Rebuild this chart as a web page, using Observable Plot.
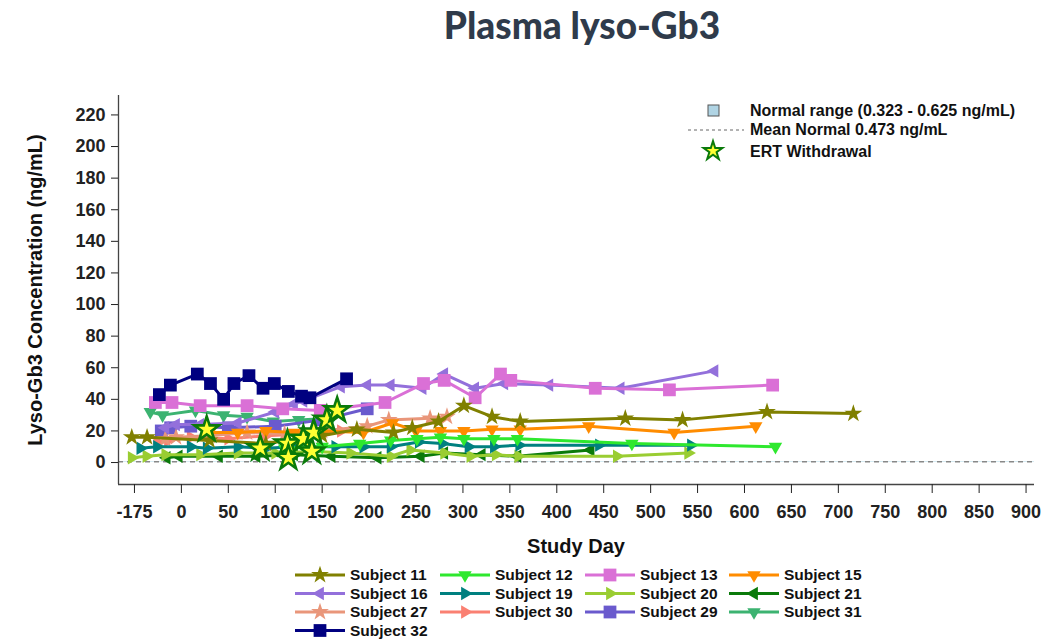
<!DOCTYPE html>
<html><head><meta charset="utf-8">
<script src="https://cdn.jsdelivr.net/npm/d3@7"></script>
<script src="https://cdn.jsdelivr.net/npm/@observablehq/plot@0.6"></script>
<style>
body{margin:0;background:#fff;font-family:"Liberation Sans",Arial,sans-serif;}
#wrap{position:relative;width:1054px;height:640px;overflow:hidden;background:#fff}
#chart{position:absolute;left:0;top:0}
#title{position:absolute;left:0;width:1164px;top:2px;text-align:center;font-family:Lato,"Open Sans",sans-serif;font-weight:900;font-size:37px;color:#2f3b4b}
#ylab{position:absolute;left:35px;top:290px;transform:translate(-50%,-50%) rotate(-90deg);white-space:nowrap;font-weight:bold;font-size:20px;color:#111}
#xlab{position:absolute;left:0;width:1152px;top:535px;text-align:center;font-weight:bold;font-size:20px;color:#111}
#leg{position:absolute;left:0;top:0}
</style></head>
<body><div id="wrap">
<div id="chart"></div>
<div id="title">Plasma lyso-Gb3</div>
<div id="ylab">Lyso-Gb3 Concentration (ng/mL)</div>
<div id="xlab">Study Day</div>
<svg id="leg" width="1054" height="640"></svg>
</div>
<script>
// ---- data ----
const s11Day = [-185, -128, 30, 90, 150, 187, 226, 246, 274, 301, 331, 361, 473, 534, 624, 716];
const s11Val = [16, 16, 14, 12, 17, 21, 19, 22, 26, 36, 29, 26, 28, 27, 32, 31];
const s12Day = [110, 150, 190, 223, 251, 276, 301, 333, 358, 480, 633];
const s12Val = [9, 10, 12, 14, 15, 16, 15, 15, 15, 12, 10];
const s13Day = [-97, -35, 20, 70, 108, 148, 217, 258, 280, 313, 340, 351, 441, 520, 630];
const s13Val = [38, 38, 36, 36, 34, 33, 38, 50, 52, 41, 56, 52, 47, 46, 49];
const s15Day = [30, 60, 90, 120, 150, 194, 225, 250, 276, 301, 331, 361, 434, 525, 612];
const s15Val = [19, 19, 20, 19, 20, 19, 25, 20, 20, 20, 21, 21, 23, 19, 23];
const s16Day = [-60, -20, 20, 60, 100, 120, 130, 170, 198, 223, 257, 280, 313, 344, 392, 468, 568];
const s16Val = [22, 24, 24, 25, 32, 37, 39, 48, 49, 49, 47, 56, 47, 50, 49, 47, 58];
const s19Day = [-153, -91, 10, 27, 60, 90, 120, 164, 194, 223, 253, 278, 306, 333, 360, 445, 543];
const s19Val = [9, 10, 10, 9, 10, 9, 10, 10, 10, 10, 13, 12, 10, 10, 11, 11, 11];
const s20Day = [-185, -130, -60, 20, 60, 100, 140, 180, 223, 244, 280, 308, 335, 359, 464, 540];
const s20Val = [3, 4, 5, 5, 6, 6, 7, 6, 4, 8, 6, 4, 5, 4, 4, 6];
const s21Day = [-55, -10, 40, 80, 120, 160, 209, 255, 280, 320, 358, 436];
const s21Val = [3, 4, 4, 4, 5, 4, 3, 4, 6, 5, 4, 8];
const s27Day = [-60, -20, 30, 70, 110, 150, 198, 221, 265, 283];
const s27Val = [15, 16, 17, 19, 18, 20, 23, 27, 28, 29];
const s30Day = [-90, -50, 10, 50, 90, 130, 170];
const s30Val = [13, 14, 16, 15, 17, 18, 20];
const s29Day = [-75, -40, 10, 50, 100, 150, 198];
const s29Val = [20, 22, 23, 22, 23, 27, 34];
const s31Day = [-116, -70, 15, 45, 70, 98, 125, 160];
const s31Val = [32, 30, 33, 30, 29, 26, 27, 28];
const s32Day = [-82, -41, 17, 31, 45, 56, 72, 87, 99, 114, 128, 137, 176];
const s32Val = [43, 49, 56, 50, 40, 50, 55, 47, 50, 45, 42, 41, 53];
const ertDay = [27, 84, 113, 114, 130, 139, 141, 155, 166];
const ertVal = [21, 9, 12, 3, 15, 7, 19, 27, 33];
const normalLow = 0.323, normalHigh = 0.625, normalMean = 0.473;
const yTicks = [0, 20, 40, 60, 80, 100, 120, 140, 160, 180, 200, 220];
const xTickLabels = [-175, 0, 50, 100, 150, 200, 250, 300, 350, 400, 450, 500, 550, 600, 650, 700, 750, 800, 850, 900];

// ---- symbols ----
function tri(kind){
  return {draw(ctx, size){
    const r = Math.sqrt(size/Math.PI)*1.25, a = r*0.866, h = r*0.5;
    if(kind==="down"){ctx.moveTo(0,r);ctx.lineTo(a,-h);ctx.lineTo(-a,-h);}
    else if(kind==="left"){ctx.moveTo(-r,0);ctx.lineTo(h,-a);ctx.lineTo(h,a);}
    else {ctx.moveTo(r,0);ctx.lineTo(-h,-a);ctx.lineTo(-h,a);}
    ctx.closePath();
  }};
}
const SYM = {star: d3.symbolStar, square: d3.symbolSquare, down: tri("down"), left: tri("left"), right: tri("right")};
const RAD = {star: 5.6, square: 7.2, down: 6.2, left: 6.2, right: 6.2};

const subjects = [
  {name:"Subject 11", days:s11Day, vals:s11Val, color:"#808000", sym:"star"},
  {name:"Subject 12", days:s12Day, vals:s12Val, color:"#2ee82e", sym:"down"},
  {name:"Subject 13", days:s13Day, vals:s13Val, color:"#da70d6", sym:"square"},
  {name:"Subject 15", days:s15Day, vals:s15Val, color:"#ff8c00", sym:"down"},
  {name:"Subject 16", days:s16Day, vals:s16Val, color:"#9370db", sym:"left"},
  {name:"Subject 19", days:s19Day, vals:s19Val, color:"#008080", sym:"right"},
  {name:"Subject 20", days:s20Day, vals:s20Val, color:"#9acd32", sym:"right"},
  {name:"Subject 21", days:s21Day, vals:s21Val, color:"#0a7a0a", sym:"left"},
  {name:"Subject 27", days:s27Day, vals:s27Val, color:"#e9967a", sym:"star"},
  {name:"Subject 30", days:s30Day, vals:s30Val, color:"#fa8072", sym:"right"},
  {name:"Subject 29", days:s29Day, vals:s29Val, color:"#6a5acd", sym:"square"},
  {name:"Subject 31", days:s31Day, vals:s31Val, color:"#3cb371", sym:"down"},
  {name:"Subject 32", days:s32Day, vals:s32Val, color:"#000080", sym:"square"}
];
const drawOrder = ["Subject 31","Subject 30","Subject 29","Subject 27","Subject 21","Subject 20","Subject 19","Subject 16","Subject 15","Subject 13","Subject 12","Subject 11","Subject 32"];

// broken axis: pre-treatment days compressed into first interval
const tx = d => d < 0 ? d*50/175 : d;
const xDomain = [-67, 909];
const yDomain = [-13.9, 232.3];

const marks = [
  Plot.rect([{x1:xDomain[0], x2:xDomain[1], y1:normalLow, y2:normalHigh}], {x1:"x1", x2:"x2", y1:"y1", y2:"y2", fill:"#add8e6"}),
  Plot.ruleY([normalMean], {stroke:"#888", strokeWidth:1.5, strokeDasharray:"5,4"})
];
for(const nm of drawOrder){
  const s = subjects.find(d => d.name === nm);
  const rows = s.days.map((d,i) => ({day:d, val:s.vals[i]}));
  marks.push(Plot.line(rows, {x: d => tx(d.day), y:"val", stroke:s.color, strokeWidth:3}));
  marks.push(Plot.dot(rows, {x: d => tx(d.day), y:"val", symbol:SYM[s.sym], r:RAD[s.sym], fill:s.color, stroke:"none"}));
}
const ert = ertDay.map((d,i) => ({day:d, val:ertVal[i]}));
marks.push(Plot.dot(ert, {x: d => tx(d.day), y:"val", symbol:d3.symbolStar, r:7.8, fill:"#ffff33", stroke:"#0a7a0a", strokeWidth:2.6}));
marks.push(Plot.ruleX([xDomain[0]], {stroke:"#444", strokeWidth:1.3}));
marks.push(Plot.ruleY([yDomain[0]], {stroke:"#444", strokeWidth:1.3}));
marks.push(Plot.axisY({ticks:yTicks, tickSize:7, tickPadding:6, label:null}));
marks.push(Plot.axisX({ticks:xTickLabels.map(tx), tickSize:9, tickPadding:12, label:null,
  tickFormat: d => d < 0 ? String(Math.round(d*175/50)) : String(d)}));

const chart = Plot.plot({
  width:1054, height:640,
  marginLeft:118, marginRight:20, marginTop:95, marginBottom:156,
  x:{domain:xDomain}, y:{domain:yDomain},
  style:{fontSize:"18px", fontWeight:"bold", fontFamily:"'Liberation Sans', Arial, sans-serif", color:"#222", background:"transparent"},
  marks
});
document.getElementById("chart").appendChild(chart);

// ---- legends ----
const leg = d3.select("#leg");
const txt = (x,y,t,fs) => leg.append("text").attr("x",x).attr("y",y).attr("dy","0.35em")
  .attr("font-family","'Liberation Sans', Arial, sans-serif").attr("font-weight","bold").attr("font-size",fs||"16px").attr("fill","#111").text(t);
// top-right
leg.append("rect").attr("x",708).attr("y",105).attr("width",11).attr("height",11).attr("fill","#b0d4e4").attr("stroke","#555").attr("stroke-width",1);
txt(750,110,"Normal range (0.323 - 0.625 ng/mL)");
leg.append("line").attr("x1",688).attr("x2",744).attr("y1",130).attr("y2",130).attr("stroke","#666").attr("stroke-width",1).attr("stroke-dasharray","3,3");
txt(750,129,"Mean Normal 0.473 ng/mL");
leg.append("path").attr("transform","translate(713,151)").attr("d",d3.symbol(d3.symbolStar, 110)()).attr("fill","#ffff33").attr("stroke","#0a7a0a").attr("stroke-width",2);
txt(750,151,"ERT Withdrawal");
// bottom
const colX = [295, 440, 585, 729];
const rowY = [575, 593.5, 612, 630.5];
subjects.forEach((s,i) => {
  const cx = colX[i%4], cy = rowY[Math.floor(i/4)];
  leg.append("line").attr("x1",cx).attr("x2",cx+50).attr("y1",cy).attr("y2",cy).attr("stroke",s.color).attr("stroke-width",3);
  const size = Math.PI*RAD[s.sym]*RAD[s.sym];
  leg.append("path").attr("transform",`translate(${cx+25},${cy})`).attr("d",d3.symbol(SYM[s.sym], size)()).attr("fill",s.color);
  txt(cx+55, cy, s.name, "15.5px");
});
</script>
</body></html>
